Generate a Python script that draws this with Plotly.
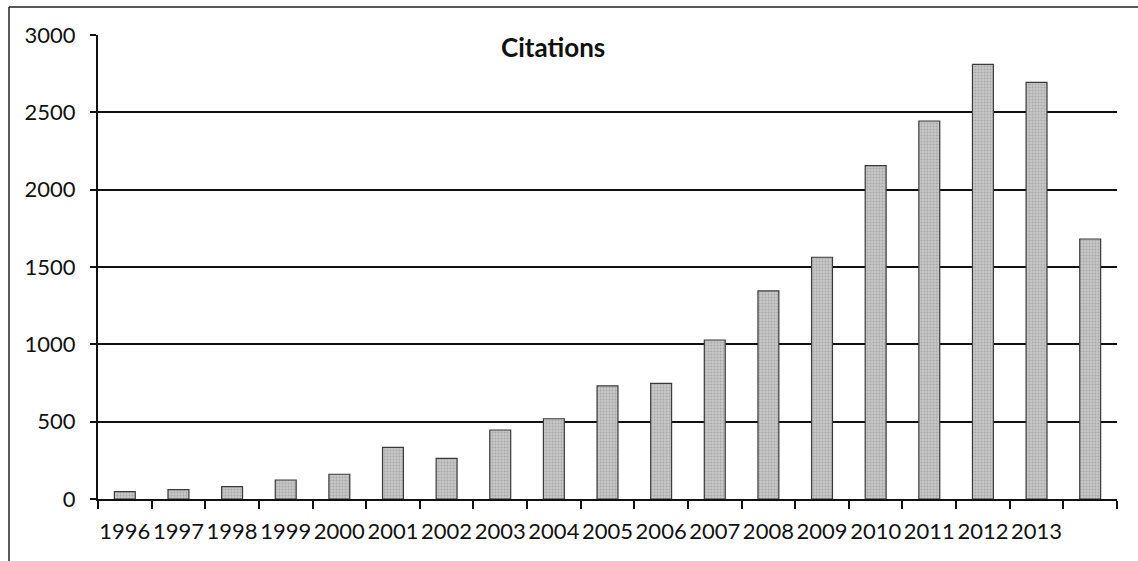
import plotly.graph_objects as go

# Yearly citation counts
years = [str(y) for y in range(1996, 2015)]
citations = [48, 60, 80, 123, 160, 334, 263, 446, 519, 731, 748,
             1028, 1345, 1563, 2155, 2444, 2810, 2694, 1681]
# Axis labels (the final, partial year is left unlabelled)
year_labels = [str(y) for y in range(1996, 2014)] + [""]
y_ticks = [0, 500, 1000, 1500, 2000, 2500, 3000]

W, H = 1138, 561
ML, MR, MT, MB = 98, 21, 35, 62
PW, PH = W - ML - MR, H - MT - MB

fig = go.Figure(
    go.Bar(
        x=years,
        y=citations,
        marker=dict(
            color="#bdbdbd",
            line=dict(color="#3a3a3a", width=1.2),
            pattern=dict(shape=".", fgcolor="#8a8a8a", bgcolor="#c6c6c6",
                         size=3, solidity=0.3),
        ),
        width=0.39,
        showlegend=False,
    )
)

font = dict(family="Lato, Open Sans, sans-serif", size=22, color="#111111")

fig.update_layout(
    width=W,
    height=H,
    margin=dict(l=ML, r=MR, t=MT, b=MB, pad=0),
    paper_bgcolor="white",
    plot_bgcolor="white",
    font=font,
    xaxis=dict(
        type="category",
        tickvals=years,
        ticktext=year_labels,
        tickson="boundaries",
        tickangle=0,
        automargin=False,
        ticks="outside",
        ticklen=8,
        tickwidth=2,
        tickcolor="#111111",
        showline=True,
        linecolor="#111111",
        linewidth=2,
        showgrid=False,
        tickfont=font,
        ticklabelstandoff=12,
        fixedrange=True,
    ),
    yaxis=dict(
        range=[0, 3000],
        tickvals=y_ticks,
        automargin=False,
        ticks="outside",
        ticklen=6,
        tickwidth=2,
        tickcolor="#111111",
        showline=True,
        linecolor="#111111",
        linewidth=2,
        showgrid=True,
        gridcolor="#111111",
        gridwidth=2,
        zeroline=False,
        tickfont=font,
        ticklabelstandoff=10,
        fixedrange=True,
    ),
    annotations=[
        dict(
            text="<b>Citations</b>",
            x=(553 - ML) / PW,
            y=(H - MB - 47) / PH,
            xref="paper",
            yref="paper",
            showarrow=False,
            xanchor="center",
            yanchor="middle",
            font=dict(family="Lato, Open Sans, sans-serif", size=26, color="#111111"),
        )
    ],
    shapes=[
        # outer chart frame: left and top edges
        dict(type="line", xref="paper", yref="paper",
             x0=(9 - ML) / PW, x1=(9 - ML) / PW,
             y0=(H - MB - 7) / PH, y1=(H - MB - H) / PH,
             line=dict(color="#222222", width=1.5)),
        dict(type="line", xref="paper", yref="paper",
             x0=(9 - ML) / PW, x1=(W - ML) / PW,
             y0=(H - MB - 7) / PH, y1=(H - MB - 7) / PH,
             line=dict(color="#222222", width=1.5)),
    ],
)

fig.write_html("out.html")
